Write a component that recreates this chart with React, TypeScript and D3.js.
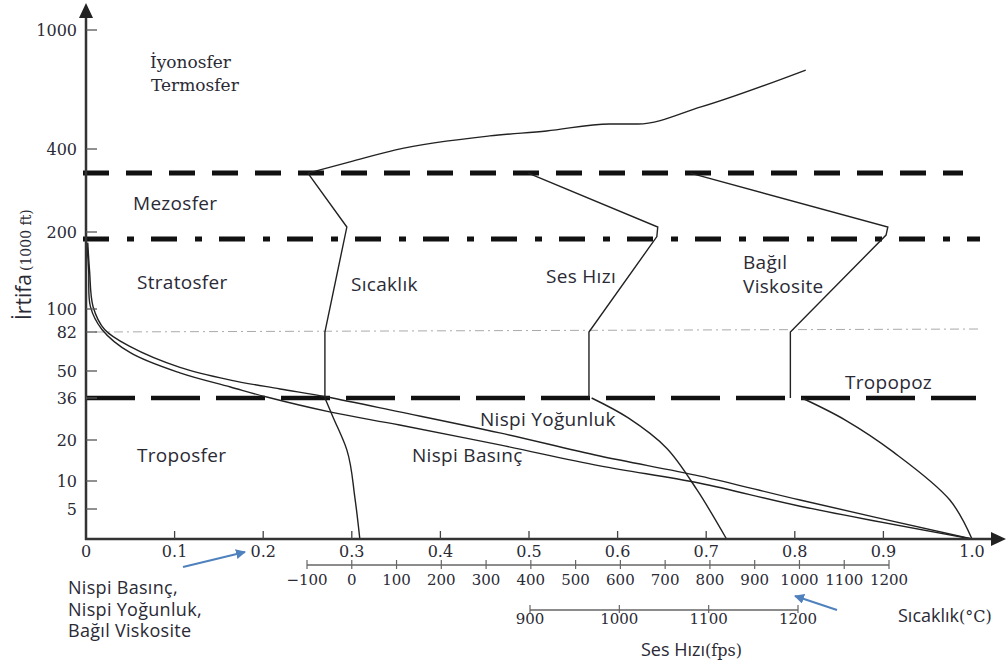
import React from 'react';
import * as d3 from 'd3';

// tick values
const altTicks = [5, 10, 20, 36, 50, 82, 100, 200, 400, 1000];
const ratioTicks = [0, 0.1, 0.2, 0.3, 0.4, 0.5, 0.6, 0.7, 0.8, 0.9, 1.0];
const tempTicks = [-100, 0, 100, 200, 300, 400, 500, 600, 700, 800, 900, 1000, 1100, 1200];
const speedTicks = [900, 1000, 1100, 1200];

// layer boundaries (1000 ft)
const tropopause = 36;
const isoTop = 82;
const stratopause = 191;
const mesopause = 342;

// [ratio, altitude]
const pressure = [
  [0.001, 186], [0.003, 150], [0.005, 103], [0.018, 84], [0.05, 65], [0.106, 49],
  [0.163, 41.7], [0.204, 36.5], [0.275, 30.7], [0.354, 25.7], [0.467, 18.8],
  [0.58, 13.7], [0.693, 9.6], [0.806, 5.5], [1.0, 0],
];
const density = [
  [0.002, 186], [0.004, 150], [0.008, 103], [0.021, 84], [0.05, 70], [0.106, 53],
  [0.163, 45.3], [0.219, 40.7], [0.272, 36.5], [0.354, 30.7], [0.467, 22.7],
  [0.58, 16.1], [0.693, 11.2], [0.806, 6.6], [1.0, 0],
];
// [°C, altitude]
const tempLow = [[18, 0], [7, 7], [-11, 17.6], [-42, 28.8], [-60, 36]];
const tempMid = [[-60, 36], [-60, 82], [-11, 212], [-98, 342]];
const tempHigh = [
  [-98, 342], [-4, 369], [98, 398], [308, 466], [435, 491], [576, 526], [639, 526],
  [780, 612], [1014, 798],
];
// [fps, altitude]
const speedLow = [[969, 36], [1010, 28.4], [1053, 18], [1087, 8.4], [1120, 0]];
const speedMid = [[966, 36], [966, 82], [1042, 194], [1043, 212], [898, 342]];
// [ratio, altitude]
const viscLow = [[0.808, 36], [0.857, 27.6], [0.911, 17.1], [0.975, 6.6], [1.0, 0]];
const viscMid = [[0.795, 36], [0.795, 82], [0.903, 196], [0.905, 212], [0.682, 342]];

const serif = "'DejaVu Serif', serif";
const sans = "'Open Sans', sans-serif";
const ink = '#2a2a35';

export default function App() {
  const W = 1007, H = 666;
  const y = d3.scaleLinear()
    .domain([0, 5, 10, 20, 36, 50, 82, 100, 200, 400, 1000])
    .range([539, 509, 481, 440, 398, 371, 332, 309, 232, 149, 30]);
  const x = d3.scaleLinear().domain([0, 1]).range([86, 972]);
  const xT = d3.scaleLinear().domain([-100, 1200]).range([307, 889]);
  const xS = d3.scaleLinear().domain([900, 1200]).range([530, 798]);

  const smooth = (sx: any) => d3.line<number[]>().x(d => sx(d[0])).y(d => y(d[1])).curve(d3.curveCatmullRom.alpha(0.5));
  const curveX = (sx: any) => d3.line<number[]>().x(d => sx(d[0])).y(d => y(d[1])).curve(d3.curveMonotoneX);
  const curveY = (sx: any) => d3.line<number[]>().x(d => sx(d[0])).y(d => y(d[1])).curve(d3.curveMonotoneY);
  const poly = (sx: any) => d3.line<number[]>().x(d => sx(d[0])).y(d => y(d[1]));

  const x0 = x(0);
  const yBase = y(0);
  const fmt = (v: number) => (v === 0 ? '0' : d3.format('.1f')(v));

  const lineStyle = { fill: 'none', stroke: '#222', strokeWidth: 1.4 };

  return (
    <svg width={W} height={H} style={{ position: 'absolute', left: 0, top: 0, background: '#fff' }}>
      <defs>
        <marker id="blueHead" viewBox="0 0 10 10" refX="9" refY="5" markerWidth="5" markerHeight="5" orient="auto">
          <path d="M0,0 L10,5 L0,10 z" fill="#4f81bd" />
        </marker>
      </defs>

      {/* layer boundaries */}
      <line x1={x0 - 3} x2={963} y1={y(mesopause)} y2={y(mesopause)} stroke="#111" strokeWidth={5} strokeDasharray="26 17" />
      <line x1={x0 - 3} x2={980} y1={y(stratopause)} y2={y(stratopause)} stroke="#111" strokeWidth={5} strokeDasharray="26 18 7 17" />
      <line x1={x0 + 9} x2={982} y1={y(isoTop)} y2={y(isoTop) - 3} stroke="#aaa" strokeWidth={1} strokeDasharray="9 4 2 4" />
      <line x1={x0} x2={976} y1={y(tropopause)} y2={y(tropopause)} stroke="#111" strokeWidth={4.5} strokeDasharray="49 16" />

      {/* series */}
      <path d={smooth(x)(pressure) || ''} {...lineStyle} />
      <path d={smooth(x)(density) || ''} {...lineStyle} />
      <path d={curveY(xT)(tempLow) || ''} {...lineStyle} />
      <path d={poly(xT)(tempMid) || ''} {...lineStyle} />
      <path d={curveX(xT)(tempHigh) || ''} {...lineStyle} />
      <path d={smooth(xS)(speedLow) || ''} {...lineStyle} />
      <path d={poly(xS)(speedMid) || ''} {...lineStyle} />
      <path d={smooth(x)(viscLow) || ''} {...lineStyle} />
      <path d={poly(x)(viscMid) || ''} {...lineStyle} />

      {/* axes */}
      <line x1={x0} x2={x0} y1={yBase + 1} y2={12} stroke="#333" strokeWidth={2.5} />
      <polygon points={`${x0},3 ${x0 - 7},18 ${x0 + 7},18`} fill="#222" />
      <line x1={x0 - 1} x2={994} y1={yBase} y2={yBase} stroke="#333" strokeWidth={2.5} />
      <polygon points={`1006,${yBase} 991,${yBase - 7} 991,${yBase + 7}`} fill="#222" />

      {altTicks.map(t => (
        <g key={t}>
          <line x1={x0} x2={x0 + 11} y1={y(t)} y2={y(t)} stroke="#555" strokeWidth={1.3} />
          <text x={77} y={y(t) + 5.5} textAnchor="end" fontFamily={serif} fontSize={16} fill={ink}>{t}</text>
        </g>
      ))}
      {ratioTicks.map(t => (
        <g key={t}>
          {t > 0 && t < 1 && <line x1={x(t)} x2={x(t)} y1={yBase} y2={yBase - 8} stroke="#444" strokeWidth={1.3} />}
          <text x={x(t)} y={557} textAnchor="middle" fontFamily={serif} fontSize={16} fill={ink}>{t === 1 ? '1.0' : fmt(t)}</text>
        </g>
      ))}

      {/* temperature axis */}
      <line x1={xT(-100)} x2={xT(1200)} y1={565} y2={565} stroke="#666" strokeWidth={1.3} />
      {tempTicks.map(t => (
        <g key={t}>
          <line x1={xT(t)} x2={xT(t)} y1={560} y2={569} stroke="#666" strokeWidth={1.2} />
          <text x={xT(t)} y={585} textAnchor="middle" fontFamily={serif} fontSize={15} fill={ink}>{t < 0 ? `\u2212${-t}` : t}</text>
        </g>
      ))}

      {/* speed of sound axis */}
      <line x1={xS(900)} x2={xS(1200)} y1={610} y2={610} stroke="#666" strokeWidth={1.3} />
      {speedTicks.map(t => (
        <g key={t}>
          <line x1={xS(t)} x2={xS(t)} y1={605} y2={613} stroke="#666" strokeWidth={1.2} />
          <text x={xS(t)} y={624} textAnchor="middle" fontFamily={serif} fontSize={15} fill={ink}>{t}</text>
        </g>
      ))}

      {/* y label */}
      <text transform="translate(31,320) rotate(-90)" fill={ink}>
        <tspan fontFamily={sans} fontSize={21}>İrtifa</tspan>
        <tspan fontFamily={serif} fontSize={14} dx={3}>(1000 ft)</tspan>
      </text>

      {/* layer names */}
      <text x={150} y={68} fontFamily={serif} fontSize={17} fill={ink}>İyonosfer</text>
      <text x={151} y={91} fontFamily={serif} fontSize={17} fill={ink}>Termosfer</text>
      <g fontFamily={sans} fontSize={19} fill={ink} letterSpacing={0.3}>
        <text x={133} y={210}>Mezosfer</text>
        <text x={137} y={289}>Stratosfer</text>
        <text x={137} y={462}>Troposfer</text>
        <text x={351} y={291}>Sıcaklık</text>
        <text x={546} y={283}>Ses Hızı</text>
        <text x={743} y={269}>Bağıl</text>
        <text x={743} y={293}>Viskosite</text>
        <text x={845} y={389}>Tropopoz</text>
        <text x={480} y={426}>Nispi Yoğunluk</text>
        <text x={412} y={462}>Nispi Basınç</text>
      </g>
      <g fontFamily={sans} fontSize={18} fill={ink} letterSpacing={0.3}>
        <text x={68} y={594}>Nispi Basınç,</text>
        <text x={68} y={616}>Nispi Yoğunluk,</text>
        <text x={68} y={637}>Bağıl Viskosite</text>
      </g>
      <text x={898} y={622} fontFamily={sans} fontSize={18} fill={ink}>Sıcaklık<tspan fontFamily={serif} fontSize={16}>(°C)</tspan></text>
      <text x={641} y={656} fontFamily={sans} fontSize={18} fill={ink}>Ses Hızı<tspan fontFamily={serif} fontSize={16}>(fps)</tspan></text>

      {/* pointer arrows */}
      <line x1={183} y1={567} x2={245} y2={552} stroke="#4f81bd" strokeWidth={2} markerEnd="url(#blueHead)" />
      <line x1={837} y1={610} x2={795} y2={596} stroke="#4f81bd" strokeWidth={2} markerEnd="url(#blueHead)" />
    </svg>
  );
}
